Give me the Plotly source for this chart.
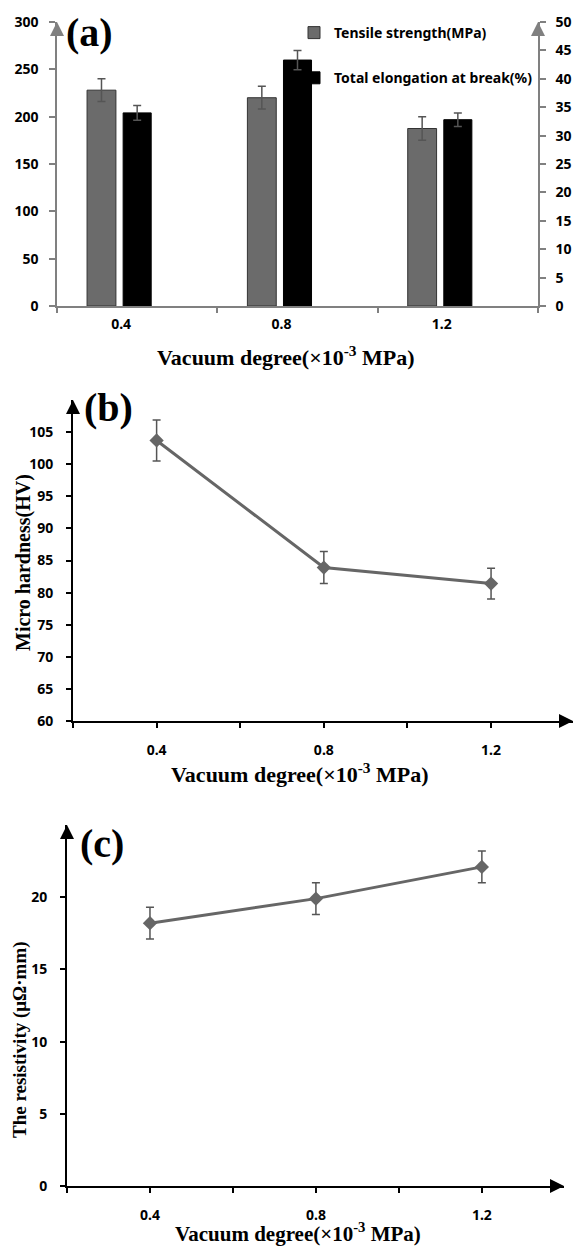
import plotly.graph_objects as go

# ---------------- data ----------------
vacuum = [0.4, 0.8, 1.2]
vacuum_labels = ["0.4", "0.8", "1.2"]

tensile = [228, 220, 187.5]          # MPa
tensile_err = [12, 12, 12.3]
elongation = [34.0, 43.3, 32.8]      # %
elongation_err = [1.3, 1.7, 1.2]

hardness = [103.7, 83.9, 81.4]       # HV
hardness_err = [3.2, 2.5, 2.4]

resistivity = [18.2, 19.9, 22.1]     # uOhm*mm
resistivity_err = [1.1, 1.1, 1.1]

tick_ab = [0.2, 0.4, 0.6, 0.8, 1.0, 1.2]
tick_ab_text = ["", "0.4", "", "0.8", "", "1.2"]
a_boundaries = [0.24, 0.64, 1.04, 1.44]

# ---------------- layout helpers ----------------
W, H = 574, 1248
def fx(px):
    return px / W
def fy(py):
    return 1 - py / H

GRAY_AX = "#808080"
SANS = "Noto Sans"
SERIF = "Liberation Serif"
tickfont = dict(family=SANS, size=14, color="black", weight="bold")

fig = go.Figure()

# (a) bars
fig.add_trace(go.Bar(
    x=vacuum, y=tensile, name="Tensile strength(MPa)",
    error_y=dict(type="data", array=tensile_err, color="#555555", thickness=1.5, width=4),
    marker=dict(color="#6b6b6b", line=dict(color="#333333", width=1)),
    offset=-0.085, width=0.072, xaxis="x", yaxis="y", legendgroup="a1",
))
fig.add_trace(go.Bar(
    x=vacuum, y=elongation, name="Total elongation at break(%)",
    error_y=dict(type="data", array=elongation_err, color="#555555", thickness=1.5, width=4),
    marker=dict(color="#000000", line=dict(color="#000000", width=1)),
    offset=0.005, width=0.07, xaxis="x", yaxis="y2", legendgroup="a2",
))

# (b) line
fig.add_trace(go.Scatter(
    x=vacuum, y=hardness, mode="lines+markers", showlegend=False,
    line=dict(color="#666666", width=3),
    marker=dict(symbol="diamond", size=11, color="#666666"),
    error_y=dict(type="data", array=hardness_err, color="#555555", thickness=1.5, width=4),
    xaxis="x2", yaxis="y3",
))

# (c) line
fig.add_trace(go.Scatter(
    x=vacuum, y=resistivity, mode="lines+markers", showlegend=False,
    line=dict(color="#666666", width=3),
    marker=dict(symbol="diamond", size=11, color="#666666"),
    error_y=dict(type="data", array=resistivity_err, color="#555555", thickness=1.5, width=4),
    xaxis="x3", yaxis="y4",
))

common_ax = dict(showgrid=False, zeroline=False, showline=True, fixedrange=True,
                 automargin=False)

fig.update_layout(
    template="none",
    width=W, height=H,
    margin=dict(l=0, r=0, t=0, b=0, pad=0),
    paper_bgcolor="white", plot_bgcolor="white",
    font=dict(family=SANS, color="black"),
    barmode="overlay",
    legend=dict(
        x=fx(294), y=fy(17), xanchor="left", yanchor="top",
        font=dict(family=SANS, size=14, color="black", weight="bold"),
        tracegroupgap=24, bgcolor="rgba(0,0,0,0)", itemwidth=30,
    ),
    # ---- panel (a)
    xaxis=dict(
        **common_ax, domain=[fx(57), fx(538)], range=[0.24, 1.44], anchor="y",
        tickmode="array", tickvals=vacuum, ticktext=vacuum_labels, ticks="",
        tickfont=tickfont, ticklabelstandoff=4,
        linecolor=GRAY_AX, linewidth=1.5,
        minor=dict(tickmode="array", tickvals=a_boundaries, ticks="outside",
                   ticklen=5, tickcolor=GRAY_AX, tickwidth=1.5),
    ),
    yaxis=dict(
        **common_ax, domain=[fy(306), fy(22)], range=[0, 300], dtick=50, anchor="x",
        ticks="outside", ticklen=6, tickcolor=GRAY_AX, tickwidth=1.5,
        linecolor=GRAY_AX, linewidth=1.5, tickfont=tickfont, ticklabelstandoff=8,
    ),
    yaxis2=dict(
        **common_ax, overlaying="y", side="right", range=[0, 50], dtick=5, anchor="x",
        ticks="outside", ticklen=6, tickcolor=GRAY_AX, tickwidth=1.5,
        linecolor=GRAY_AX, linewidth=1.5, tickfont=tickfont, ticklabelstandoff=7,
    ),
    # ---- panel (b)
    xaxis2=dict(
        **common_ax, domain=[fx(73), fx(573)], range=[0.2, 1.396], anchor="y3",
        tickmode="array", tickvals=tick_ab, ticktext=tick_ab_text,
        ticks="outside", ticklen=5, tickcolor="black", tickwidth=1.5,
        linecolor="black", linewidth=2, tickfont=tickfont, ticklabelstandoff=10,
    ),
    yaxis3=dict(
        **common_ax, domain=[fy(721), fy(400)], range=[60, 110], anchor="x2",
        tickmode="array", tickvals=[60, 65, 70, 75, 80, 85, 90, 95, 100, 105],
        ticks="outside", ticklen=5, tickcolor="black", tickwidth=1.5,
        linecolor="black", linewidth=2, tickfont=tickfont, ticklabelstandoff=10,
    ),
    # ---- panel (c)
    xaxis3=dict(
        **common_ax, domain=[fx(67), fx(564)], range=[0.2, 1.398], anchor="y4",
        tickmode="array", tickvals=tick_ab, ticktext=tick_ab_text,
        ticks="outside", ticklen=5, tickcolor="black", tickwidth=1.5,
        linecolor="black", linewidth=2, tickfont=tickfont, ticklabelstandoff=10,
    ),
    yaxis4=dict(
        **common_ax, domain=[fy(1186), fy(825)], range=[0, 25], anchor="x3",
        tickmode="array", tickvals=[0, 5, 10, 15, 20],
        ticks="outside", ticklen=5, tickcolor="black", tickwidth=1.5,
        linecolor="black", linewidth=2, tickfont=tickfont, ticklabelstandoff=10,
    ),
)

# ---- axis arrows
def arrow(xref, x, yref, y, ax, ay, color):
    fig.add_annotation(xref=xref, x=x, yref=yref, y=y, ax=ax, ay=ay, text="",
                       showarrow=True, arrowhead=2, arrowsize=1.4, arrowwidth=2,
                       arrowcolor=color, standoff=0)

arrow("x", 0.24, "y", 300, 0, 14, GRAY_AX)
arrow("x", 1.44, "y2", 50, 0, 14, GRAY_AX)
arrow("x2", 0.2, "y3", 110, 0, 14, "black")
arrow("x2", 1.396, "y3", 60, -14, 0, "black")
arrow("x3", 0.2, "y4", 25, 0, 14, "black")
arrow("x3", 1.398, "y4", 0, -14, 0, "black")

# ---- text annotations
def text(px, py, s, size, angle=0):
    fig.add_annotation(xref="paper", yref="paper", x=fx(px), y=fy(py), text=s,
                       showarrow=False, xanchor="center", yanchor="middle",
                       textangle=angle,
                       font=dict(family=SERIF, size=size, color="black", weight="bold"))

xtitle = "Vacuum degree(\u00d710<sup>-3</sup> MPa)"
text(89, 32, "(a)", 40)
text(108, 408, "(b)", 40)
text(102, 843, "(c)", 40)
text(286, 356, xtitle, 22)
text(300, 773, xtitle, 22)
text(298, 1232, xtitle, 21)
text(23, 563, "Micro hardness(HV)", 20, -90)
text(20, 1040, "The resistivity (\u03bc\u03a9\u00b7mm)", 19, -90)

fig.write_html(
    "out.html",
    config={"displayModeBar": False},
    post_script="document.body.style.margin='0';document.body.style.overflow='hidden';",
)
